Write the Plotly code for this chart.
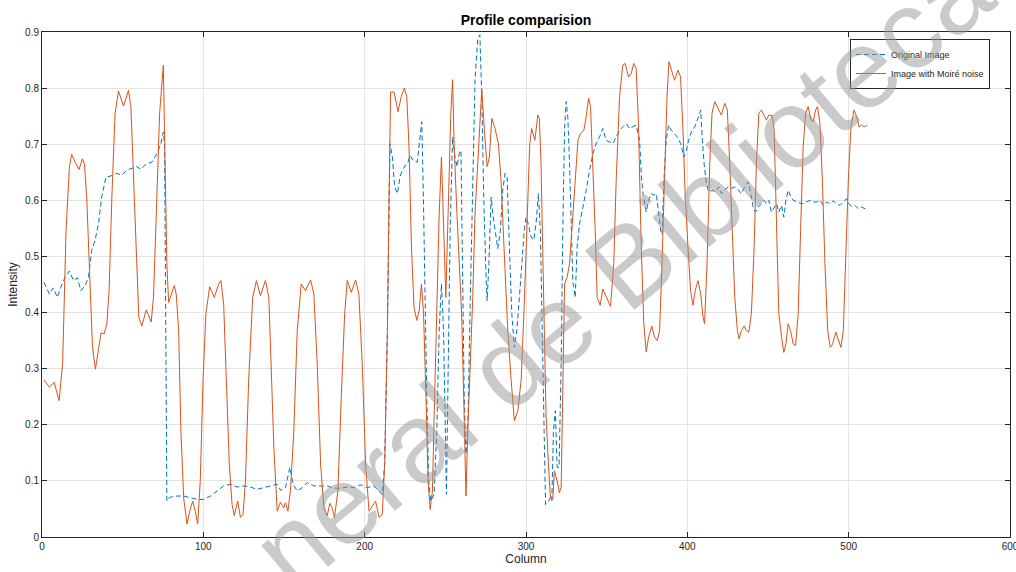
import plotly.graph_objects as go

# ---- data ----
noisy_x = [1.2, 4.6, 7.5, 10.6, 12.8, 14.9, 17, 18.4, 20.5, 23, 25, 26.3, 27.7, 29.8, 31.3, 33.1, 35, 36.6, 38.5, 40.2,
           41.6, 43.3, 45.3, 47.4, 50.5, 53.6, 55.1, 56.7, 58.4, 60.0, 61.9, 64.6, 67.7, 69.1, 71.2, 72.9, 75.2, 76.4, 77.4, 78.5,
           80.5, 82, 83.2, 84.7, 86.1, 87.8, 89.9, 91.5, 93.4, 95, 96.5, 98.1, 99.8, 101.6, 103.9, 106.8, 109.5, 110.9, 112.6, 114.3,
           116.1, 117.8, 119.2, 121.3, 123, 124.6, 126.1, 128.1, 130.6, 132.9, 135.4, 138.5, 140.6, 142, 143.7, 145.8, 147.8, 149.9, 150.9, 152.4,
           154, 156.1, 158.2, 160.7, 163.3, 166.5, 168.5, 170.6, 172.7, 174.7, 176.8, 178.4, 179.9, 181.3, 183.4, 185.5, 187.6, 189.2, 191.7, 194.4,
           196.4, 198.5, 200.6, 202.7, 204.7, 206.8, 208.9, 210.9, 212.4, 214.1, 215.1, 216.1, 218.2, 220.7, 222.7, 224.6, 226.1, 227.5, 229, 230.6,
           232.3, 233.8, 235.2, 236.5, 238, 239.3, 240.6, 242, 243.1, 244.7, 246.2, 247.6, 248.9, 250.3, 252, 253.4, 254.5, 255.5, 257.2, 258.6,
           260.1, 261.4, 262.8, 263.9, 265.5, 267, 268.4, 270.5, 272.6, 274.2, 275.9, 277.3, 278.8, 280.8, 282.9, 284.5, 286.6, 288.7, 290.8, 292.8,
           294.9, 297, 299, 300.8, 302.3, 303.5, 305.5, 307.3, 308.3, 309.3, 310.3, 311.4, 312.4, 313.9, 315.1, 316.6, 317.6, 319.3, 320.7, 321.8,
           322.8, 323.9, 325.5, 327, 328.4, 330.1, 332.2, 333.8, 335.9, 337.3, 338.8, 340, 341.5, 342.9, 344.1, 346, 347.6, 349.7, 352.4, 354.4,
           355.9, 358, 360, 361.5, 363.5, 365.2, 366.8, 368.3, 369.7, 371.4, 373, 374.5, 376, 378, 379.7, 381.4, 382.8, 384.3, 385.9, 387.4,
           388.6, 390.5, 392.1, 394.2, 395.8, 397.3, 398.7, 400.4, 402, 403.5, 404.9, 406.6, 408.3, 409.7, 410.7, 412.2, 413.9, 415.3, 417, 419,
           421.1, 423.2, 424.8, 426.3, 427.7, 429.4, 431, 432.1, 433.5, 435.2, 436.6, 438.1, 439.7, 441.4, 442.8, 444.3, 445.9, 447.6, 449, 450.5,
           452.6, 453.8, 455.3, 456.7, 458.4, 459.8, 461.1, 462.5, 464.2, 465.6, 467.1, 468.7, 470.2, 471.8, 473.3, 474.9, 476.6, 478, 479.5, 480.7,
           482.2, 483.7, 485.3, 487, 488.5, 490.1, 492, 493.6, 495.2, 496.7, 498.1, 499.8, 501.4, 503.3, 505, 506.4, 508, 509.7, 511.5]
noisy_y = [0.28, 0.267, 0.276, 0.243, 0.31, 0.546, 0.66, 0.682, 0.668, 0.655, 0.674, 0.665, 0.606, 0.427, 0.338, 0.299, 0.338, 0.364, 0.362, 0.38,
           0.44, 0.606, 0.755, 0.795, 0.768, 0.796, 0.767, 0.636, 0.487, 0.392, 0.376, 0.405, 0.383, 0.427, 0.606, 0.755, 0.841, 0.665, 0.487, 0.418,
           0.433, 0.448, 0.433, 0.368, 0.189, 0.070, 0.023, 0.046, 0.064, 0.046, 0.023, 0.100, 0.279, 0.398, 0.446, 0.427, 0.451, 0.457, 0.415, 0.279,
           0.130, 0.058, 0.038, 0.064, 0.035, 0.040, 0.100, 0.279, 0.427, 0.457, 0.430, 0.457, 0.427, 0.308, 0.160, 0.046, 0.062, 0.052, 0.061, 0.046,
           0.082, 0.189, 0.368, 0.451, 0.439, 0.458, 0.433, 0.308, 0.130, 0.052, 0.038, 0.060, 0.052, 0.035, 0.082, 0.249, 0.398, 0.457, 0.436, 0.458,
           0.433, 0.308, 0.130, 0.046, 0.054, 0.064, 0.035, 0.040, 0.130, 0.368, 0.606, 0.793, 0.793, 0.758, 0.785, 0.800, 0.785, 0.695, 0.517, 0.410,
           0.386, 0.404, 0.451, 0.398, 0.249, 0.100, 0.049, 0.082, 0.219, 0.427, 0.576, 0.677, 0.546, 0.427, 0.606, 0.755, 0.815, 0.695, 0.576, 0.487,
           0.398, 0.249, 0.073, 0.189, 0.308, 0.427, 0.576, 0.695, 0.798, 0.725, 0.660, 0.677, 0.746, 0.728, 0.701, 0.636, 0.487, 0.368, 0.279, 0.207,
           0.225, 0.280, 0.420, 0.580, 0.700, 0.728, 0.707, 0.752, 0.746, 0.665, 0.517, 0.368, 0.219, 0.130, 0.070, 0.067, 0.118, 0.100, 0.079, 0.088,
           0.308, 0.451, 0.463, 0.487, 0.546, 0.618, 0.707, 0.719, 0.725, 0.749, 0.782, 0.767, 0.665, 0.546, 0.427, 0.413, 0.442, 0.427, 0.411, 0.487,
           0.636, 0.785, 0.841, 0.844, 0.820, 0.826, 0.844, 0.835, 0.737, 0.520, 0.380, 0.330, 0.356, 0.376, 0.356, 0.350, 0.368, 0.487, 0.665, 0.785,
           0.847, 0.829, 0.814, 0.832, 0.820, 0.725, 0.606, 0.517, 0.439, 0.413, 0.439, 0.457, 0.433, 0.392, 0.380, 0.487, 0.665, 0.755, 0.776, 0.764,
           0.752, 0.773, 0.761, 0.665, 0.546, 0.427, 0.368, 0.353, 0.368, 0.376, 0.368, 0.365, 0.398, 0.517, 0.665, 0.755, 0.761, 0.752, 0.743, 0.752,
           0.751, 0.725, 0.546, 0.398, 0.356, 0.329, 0.344, 0.380, 0.365, 0.344, 0.341, 0.398, 0.546, 0.695, 0.755, 0.767, 0.743, 0.740, 0.761, 0.767,
           0.737, 0.636, 0.487, 0.368, 0.338, 0.344, 0.365, 0.350, 0.338, 0.368, 0.487, 0.636, 0.731, 0.761, 0.749, 0.731, 0.734, 0.731, 0.734]

orig_x = [1.2, 4.6, 7.0, 9.5, 11.6, 14.3, 17, 19.5, 22, 24, 26.7, 28.8, 30.8, 32.9, 35, 37, 39.7, 42.2, 46.4, 49.5,
          52.6, 55.7, 58.8, 61.3, 64.6, 68.1, 71.2, 73.7, 75.2, 76.0, 76.5, 77.4, 79.5, 83.6, 87.8, 91.9, 96, 100.2, 104.4, 108.5,
          112.6, 116.8, 120.9, 125, 129.2, 133.3, 137.4, 141.6, 145.8, 148, 150.9, 153.6, 155.7, 158.2, 161.3, 164.4, 168.5, 172.7, 176.8, 180.9,
          185, 189.2, 193.3, 197.4, 201.6, 205.7, 208.8, 210.9, 212.4, 214.1, 215.7, 217.2, 218.6, 220.3, 221.9, 223.4, 225.4, 226.5, 228.1, 230.1,
          232.6, 234.3, 235.4, 236.4, 237.3, 238.5, 239.7, 241, 243, 244.7, 246.2, 247.6, 248.9, 249.9, 250.7, 251.8, 253, 254.5, 256, 257.2,
          258.6, 259.7, 260.7, 261.7, 262.8, 263.9, 265.5, 267, 268.4, 270.1, 271.4, 272.6, 273.8, 275.3, 275.9, 277, 278.4, 279.4, 280.8, 282.5,
          284.1, 285.6, 287, 288.3, 289.7, 291.2, 292.8, 294.3, 295.9, 297.4, 299.1, 300.1, 301.4, 303.1, 304.8, 306.2, 307.7, 308.9, 310, 311,
          312.1, 313.5, 315.1, 316, 317, 318.2, 319.3, 320.5, 321.8, 322.8, 323.9, 324.9, 325.9, 327, 328, 329, 330.5, 331.7, 333.2, 335.3,
          337.3, 339.4, 341.5, 343.5, 345.6, 347.6, 349.7, 351.8, 353.9, 355.9, 358, 360, 362.1, 364.2, 366.2, 368.3, 370.4, 371.6, 372.6, 373.5,
          374.5, 376, 377.7, 379.3, 380.8, 382.2, 383.5, 384.3, 385.5, 386.9, 388.4, 390, 391.7, 393.8, 395.9, 397.9, 399.4, 400.8, 402.5, 404.6,
          406.6, 408.3, 409.3, 410.4, 411.8, 413.3, 415.3, 417.4, 419.5, 421.1, 423.2, 425.3, 427.3, 429.4, 431.5, 433.5, 435.6, 437.7, 439.3, 440.8,
          442.2, 443.9, 446, 447.6, 449, 450.5, 452.1, 453.8, 455.3, 456.7, 458.4, 459.8, 461.1, 462.5, 464.2, 465.6, 467.7, 469.7, 471.8, 473.9,
          476, 478, 480.1, 482.2, 484.2, 486.3, 488.4, 490.4, 492.5, 494.6, 496.7, 498.7, 500.2, 501.8, 503.9, 506, 508, 510.1, 511.8]
orig_y = [0.454, 0.433, 0.444, 0.427, 0.445, 0.463, 0.474, 0.457, 0.462, 0.439, 0.448, 0.463, 0.511, 0.529, 0.558, 0.606, 0.642, 0.643, 0.648, 0.645,
          0.654, 0.657, 0.660, 0.655, 0.665, 0.668, 0.683, 0.701, 0.722, 0.700, 0.400, 0.064, 0.071, 0.073, 0.073, 0.070, 0.067, 0.067, 0.073, 0.082,
          0.091, 0.094, 0.089, 0.091, 0.089, 0.085, 0.088, 0.091, 0.094, 0.083, 0.088, 0.124, 0.094, 0.082, 0.088, 0.097, 0.091, 0.091, 0.091, 0.087,
          0.087, 0.089, 0.088, 0.093, 0.088, 0.091, 0.082, 0.076, 0.130, 0.368, 0.701, 0.677, 0.624, 0.612, 0.642, 0.654, 0.663, 0.665, 0.680, 0.671,
          0.668, 0.707, 0.740, 0.606, 0.427, 0.249, 0.100, 0.064, 0.076, 0.189, 0.368, 0.451, 0.368, 0.219, 0.076, 0.308, 0.546, 0.713, 0.677, 0.660,
          0.683, 0.689, 0.487, 0.249, 0.148, 0.189, 0.427, 0.636, 0.814, 0.889, 0.895, 0.785, 0.606, 0.457, 0.421, 0.487, 0.606, 0.576, 0.546, 0.514,
          0.546, 0.618, 0.648, 0.642, 0.517, 0.398, 0.338, 0.368, 0.427, 0.487, 0.552, 0.570, 0.558, 0.535, 0.529, 0.558, 0.612, 0.546, 0.368, 0.189,
          0.058, 0.061, 0.070, 0.064, 0.189, 0.225, 0.124, 0.124, 0.308, 0.546, 0.725, 0.776, 0.749, 0.665, 0.546, 0.457, 0.427, 0.517, 0.558, 0.588,
          0.618, 0.654, 0.683, 0.701, 0.713, 0.728, 0.707, 0.704, 0.701, 0.713, 0.725, 0.731, 0.737, 0.728, 0.731, 0.734, 0.707, 0.640, 0.610, 0.594,
          0.579, 0.600, 0.612, 0.609, 0.612, 0.576, 0.546, 0.539, 0.636, 0.707, 0.734, 0.725, 0.719, 0.713, 0.701, 0.677, 0.689, 0.707, 0.722, 0.731,
          0.746, 0.761, 0.707, 0.665, 0.630, 0.615, 0.618, 0.615, 0.624, 0.612, 0.618, 0.624, 0.621, 0.624, 0.619, 0.612, 0.624, 0.633, 0.612, 0.588,
          0.579, 0.588, 0.594, 0.600, 0.594, 0.600, 0.579, 0.588, 0.594, 0.579, 0.591, 0.570, 0.600, 0.618, 0.606, 0.600, 0.597, 0.595, 0.594, 0.597,
          0.600, 0.597, 0.597, 0.600, 0.591, 0.597, 0.594, 0.599, 0.594, 0.591, 0.597, 0.603, 0.594, 0.589, 0.591, 0.585, 0.588, 0.585, 0.588]

x_ticks = [0, 100, 200, 300, 400, 500, 600]
y_ticks = [0, 0.1, 0.2, 0.3, 0.4, 0.5, 0.6, 0.7, 0.8, 0.9]

BLUE = "#0072BD"
ORANGE = "#D95319"
AX = "#262626"
FONT = "Liberation Sans, Arial, Helvetica, sans-serif"

fig = go.Figure()
fig.add_trace(go.Scatter(x=orig_x, y=orig_y, mode="lines", name="Original Image",
                         line=dict(color=BLUE, width=1, dash="5px,3px")))
fig.add_trace(go.Scatter(x=noisy_x, y=noisy_y, mode="lines", name="Image with Moiré noise",
                         line=dict(color=ORANGE, width=1)))

axis_common = dict(showline=True, linecolor=AX, linewidth=1, mirror="ticks",
                   ticks="inside", ticklen=5, tickcolor=AX, tickwidth=1,
                   showgrid=True, gridcolor="#e3e3e3", gridwidth=1, zeroline=False,
                   automargin=False, ticklabeloverflow="allow",
                   tickfont=dict(family=FONT, size=10, color=AX))

fig.update_xaxes(range=[0, 600], tickvals=x_ticks, ticktext=[str(v) for v in x_ticks],
                 title=dict(text="Column", font=dict(family=FONT, size=12, color=AX), standoff=2),
                 **axis_common)
fig.update_yaxes(range=[0, 0.9], tickvals=y_ticks, ticktext=[("%g" % v) for v in y_ticks],
                 title=dict(text="Intensity", font=dict(family=FONT, size=12, color=AX), standoff=4),
                 **axis_common)

fig.update_layout(
    width=1016, height=572,
    margin=dict(l=42, r=6, t=32, b=35, autoexpand=False),
    paper_bgcolor="white", plot_bgcolor="white",
    title=dict(text="<b>Profile comparision</b>", x=(42 + 1010) / 2 / 1016, xanchor="center",
               y=1 - 20 / 572, yanchor="middle", automargin=False,
               font=dict(family=FONT, size=14, color="black")),
    legend=dict(x=(850 - 42) / 968, y=(537 - 39) / 505, xanchor="left", yanchor="top",
                bgcolor="white", bordercolor=AX, borderwidth=1,
                font=dict(family=FONT, size=9, color=AX),
                tracegroupgap=0, itemwidth=30),
    showlegend=True,
)

# watermark (the visible part of it in the reference)
fig.add_annotation(text="neral de Bibliotecas", xref="paper", yref="paper",
                   x=(643 - 42) / 968, y=(537 - 253) / 505, xanchor="center", yanchor="middle",
                   showarrow=False, textangle=-40,
                   font=dict(family=FONT, size=112, color="rgba(150,150,150,0.5)"))

fig.write_html("out.html", config={"displayModeBar": False},
               post_script="document.body.style.margin='0';document.body.style.padding='0';")
